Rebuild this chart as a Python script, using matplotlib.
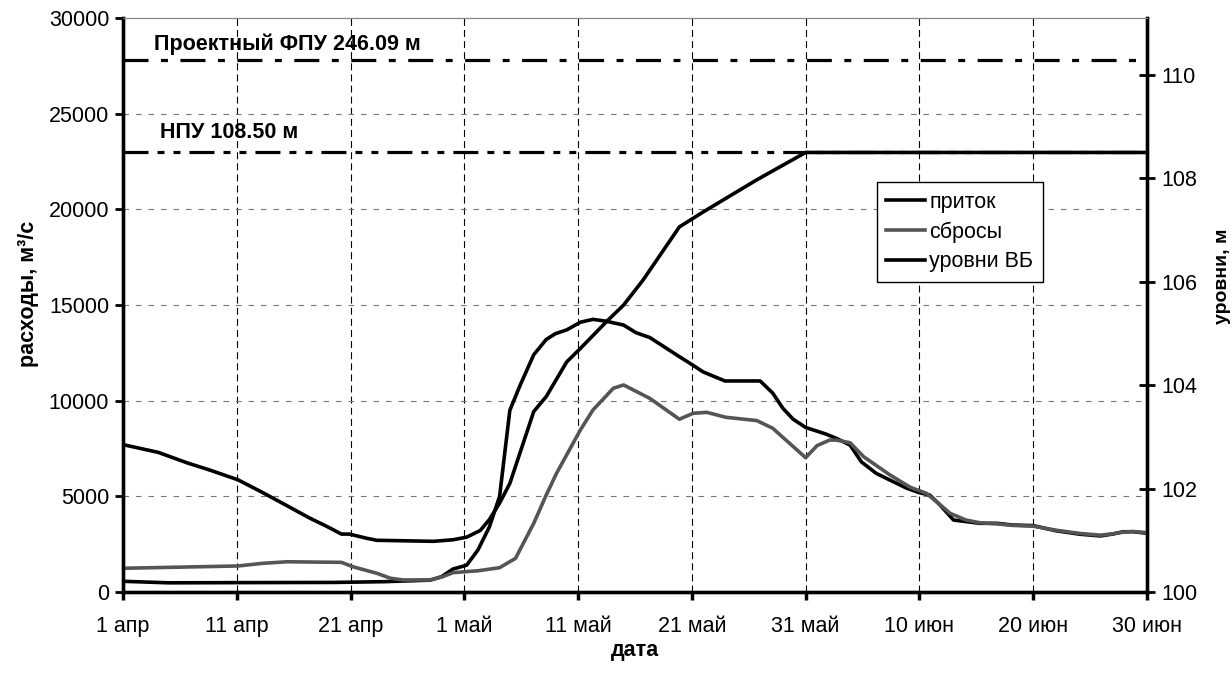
import numpy as np
import matplotlib
matplotlib.use("Agg")
import matplotlib.pyplot as plt

plt.rcParams['font.family'] = ['Liberation Sans', 'DejaVu Sans']
plt.rcParams['lines.scale_dashes'] = False

# x positions are days counted from 1 April
tick_days = [0, 10, 20, 30, 40, 50, 60, 70, 80, 90]
tick_labels = ['1 апр', '11 апр', '21 апр', '1 май', '11 май', '21 май',
               '31 май', '10 июн', '20 июн', '30 июн']

# inflow, m3/s
inflow_days = [0, 4, 10, 18.5, 23, 27, 28, 29, 30.2, 31.2, 32.2, 33.1, 34.0, 34.9,
               36.1, 37.2, 38, 39.0, 40.2, 41.3, 42.5, 44.0, 45.1, 46.3, 48.9, 50.1,
               51.0, 52.9, 56.0, 57.1, 58.0, 58.9, 60.0, 61.8, 62.7, 63.9, 64.9, 66.2,
               67.4, 68.9, 70.0, 70.9, 71.8, 73.0, 74.1, 75.3, 76.8, 78.2, 80.0, 82.0,
               84.1, 85.9, 87.0, 87.9, 88.8, 90]
inflow = [560, 480, 490, 500, 540, 620, 800, 1200, 1400, 2200, 3400, 5000, 9500, 10800,
          12400, 13200, 13500, 13700, 14100, 14250, 14150, 13950, 13550, 13300, 12300, 11850,
          11500, 11030, 11030, 10400, 9600, 9030, 8600, 8250, 8030, 7680, 6800, 6200,
          5850, 5420, 5190, 5070, 4550, 3760, 3680, 3590, 3590, 3500, 3470, 3200,
          3020, 2930, 3030, 3150, 3150, 3070]

# discharges, m3/s
outflow_days = [0, 10.1, 12.3, 14.4, 19.2, 20.2, 22.3, 23.5, 24.6, 27, 28.1, 29, 31.2,
                33.1, 34.5, 36.1, 37.2, 38.1, 40.2, 41.3, 43.1, 44.0, 46.3, 48.9, 50.1,
                51.3, 53.0, 55.7, 57.1, 60.0, 61.0, 62.1, 62.7, 63.9, 65.1, 67.4, 69.2,
                70.6, 71.5, 72.7, 74.1, 75.3, 76.8, 78.2, 80.0, 82.0, 84.1, 85.9, 87.0,
                87.9, 88.8, 90]
outflow = [1240, 1360, 1500, 1580, 1550, 1320, 980, 720, 630, 630, 800, 1010, 1110,
           1270, 1760, 3590, 5070, 6200, 8470, 9510, 10650, 10820, 10120, 9030, 9340,
           9390, 9130, 8960, 8560, 7020, 7650, 7940, 7940, 7800, 7070, 6120, 5470,
           5160, 4720, 4110, 3760, 3620, 3560, 3480, 3440, 3230, 3060, 2970, 3040,
           3130, 3160, 3100]

# upstream levels, m
level_days = [0, 3.1, 5.6, 7.6, 10.1, 12.3, 14.4, 16.4, 17.9, 19.2, 19.9, 21.4, 22.3,
              27.3, 29.0, 30.2, 31.4, 32.2, 33.1, 34.0, 36.1, 37.2, 39.0, 40.2, 42.5,
              44.0, 45.7, 48.9, 51.0, 55.7, 60.0, 90]
level = [102.85, 102.70, 102.50, 102.36, 102.17, 101.92, 101.67, 101.43, 101.27, 101.12,
         101.12, 101.04, 101.00, 100.98, 101.01, 101.06, 101.19, 101.40, 101.72, 102.10,
         103.49, 103.78, 104.45, 104.71, 105.23, 105.55, 106.03, 107.06, 107.35, 107.97,
         108.50, 108.50]

fpu = 110.28
npu = 108.50

fs = 15.5
fig = plt.figure(figsize=(12.32, 6.73), dpi=100)
ax = fig.add_axes([123 / 1232, 81 / 673, 1024 / 1232, 574 / 673])
ax2 = ax.twinx()

# grid
ax.set_xticks(tick_days)
ax.set_xticklabels(tick_labels, fontsize=fs)
ax.set_yticks(np.arange(0, 30001, 5000))
ax.tick_params(axis='y', labelsize=fs, direction='out', length=6, width=2, pad=4)
ax.tick_params(axis='x', direction='out', length=6, width=2.5, pad=11)
for d in tick_days[1:-1]:
    ax.axvline(d, color='black', lw=0.8, dashes=(5, 3), zorder=1)
for q in range(5000, 30000, 5000):
    ax.axhline(q, color='#777777', lw=0.8, dashes=(4, 5), zorder=1)

l1, = ax.plot(inflow_days, inflow, color='black', lw=2.6, zorder=3)
l2, = ax.plot(outflow_days, outflow, color='#555555', lw=2.6, zorder=3)
ax.set_xlim(0, 90)
ax.set_ylim(0, 30000)

l3, = ax2.plot(level_days, level, color='black', lw=2.6, zorder=3)
ax2.axhline(fpu, color='black', lw=2.3, dashes=(18, 9, 5, 9))
ax2.axhline(npu, color='black', lw=2.3, dashes=(18, 6.5, 5, 6.5, 5, 6.5))
ax2.set_ylim(100, 111.1)
ax2.set_yticks(np.arange(100, 111, 2))
ax2.tick_params(axis='y', labelsize=fs, direction='inout', length=12, width=2, pad=4)

ax2.text(0.03, 0.955, 'Проектный ФПУ 246.09 м', transform=ax.transAxes,
         fontsize=fs, fontweight='bold', va='center')
ax2.text(0.036, 0.80, 'НПУ 108.50 м', transform=ax.transAxes,
         fontsize=fs, fontweight='bold', va='center')

for a in (ax, ax2):
    a.spines['left'].set_linewidth(2.4)
    a.spines['bottom'].set_linewidth(2.4)
    a.spines['right'].set_linewidth(2.4)
    a.spines['top'].set_linewidth(0.8)
    a.spines['top'].set_color('#888888')

ax.set_ylabel('расходы, м³/с', fontsize=fs, fontweight='bold', va='center', ha='center')
ax.yaxis.set_label_coords(-0.092, 0.52)
ax2.set_ylabel('уровни, м', fontsize=14, fontweight='bold', va='center', ha='center')
ax2.yaxis.set_label_coords(1.074, 0.55)
ax.set_xlabel('дата', fontsize=fs, fontweight='bold', va='center')
ax.xaxis.set_label_coords(0.5, -0.102)

leg = ax2.legend([l1, l2, l3], ['приток', 'сбросы', 'уровни ВБ'],
                 loc='upper left', bbox_to_anchor=(0.736, 0.714), borderaxespad=0,
                 fontsize=fs, frameon=True, fancybox=False, framealpha=1,
                 edgecolor='black', handlelength=1.8, handletextpad=0.2,
                 labelspacing=0.4, borderpad=0.45)
leg.get_frame().set_linewidth(1.0)

fig.savefig('out.png', dpi=100)
